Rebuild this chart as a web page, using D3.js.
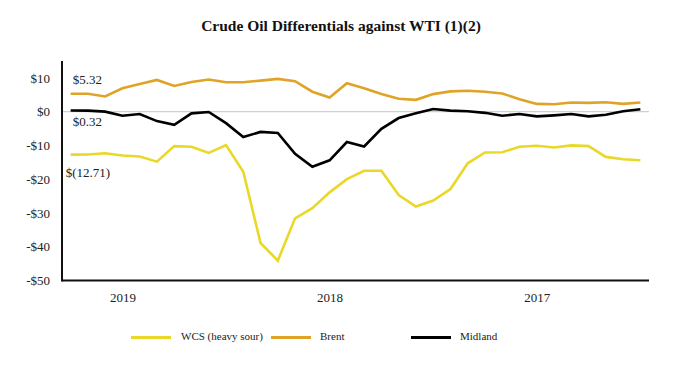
<!DOCTYPE html>
<html>
<head>
<meta charset="utf-8">
<script src="https://cdn.jsdelivr.net/npm/d3@7"></script>
<style>
  html, body { margin: 0; padding: 0; background: #fff; }
  svg { display: block; }
  text { font-family: "Liberation Serif", "DejaVu Serif", serif; fill: #222; }
</style>
</head>
<body>
<svg id="chart" width="682" height="374"></svg>
<script>
// Months, most recent first (chart reads right-to-left in time)
const categories = [
  "2019-10","2019-09","2019-08","2019-07","2019-06","2019-05","2019-04","2019-03","2019-02","2019-01",
  "2018-12","2018-11","2018-10","2018-09","2018-08","2018-07","2018-06","2018-05","2018-04","2018-03","2018-02","2018-01",
  "2017-12","2017-11","2017-10","2017-09","2017-08","2017-07","2017-06","2017-05","2017-04","2017-03","2017-02","2017-01"
];
const wcs = [-12.71,-12.7,-12.3,-13.0,-13.3,-14.8,-10.2,-10.4,-12.2,-9.9,-17.8,-38.9,-44.1,-31.6,-28.6,-23.9,-20.0,-17.5,-17.5,-24.7,-28.1,-26.3,-22.9,-15.3,-12.1,-12.0,-10.4,-10.1,-10.6,-10.0,-10.2,-13.4,-14.1,-14.4];
const brent = [5.32,5.3,4.5,6.9,8.2,9.4,7.6,8.8,9.5,8.7,8.7,9.2,9.7,9.0,5.9,4.2,8.4,6.9,5.2,3.8,3.5,5.2,6.0,6.2,5.9,5.4,3.7,2.3,2.2,2.7,2.6,2.8,2.3,2.7];
const midland = [0.32,0.3,0.0,-1.2,-0.7,-2.8,-3.9,-0.5,-0.1,-3.4,-7.5,-6.0,-6.3,-12.5,-16.3,-14.4,-9.0,-10.3,-5.1,-1.9,-0.5,0.8,0.3,0.1,-0.35,-1.2,-0.7,-1.4,-1.1,-0.7,-1.4,-0.9,0.1,0.7];
const yTicks = [10, 0, -10, -20, -30, -40, -50];
const yearTicks = [{cat: "2019-07", label: "2019"}, {cat: "2018-07", label: "2018"}, {cat: "2017-07", label: "2017"}];
const seriesList = [
  {name: "WCS (heavy sour)", values: wcs, color: "#EAD829"},
  {name: "Brent", values: brent, color: "#DFA427"},
  {name: "Midland", values: midland, color: "#000000"}
];
const annotations = [
  {text: "$5.32", idx: 0, value: 5.32, dx: 2, dy: -13},
  {text: "$0.32", idx: 0, value: 0.32, dx: 2, dy: 12},
  {text: "$(12.71)", idx: 0, value: -12.71, dx: -5, dy: 19}
];

const svg = d3.select("#chart");
const plotLeft = 62, plotRight = 649, plotTop = 61, plotBottom = 280.5;

const x = d3.scalePoint().domain(categories).range([plotLeft, plotRight]).padding(0.5);
const y = d3.scaleLinear().domain([-50, 15]).range([plotBottom, plotTop]);

// Title
svg.append("text")
  .attr("x", 341).attr("y", 31)
  .attr("text-anchor", "middle")
  .style("font-weight", "bold").style("font-size", "15.5px").style("fill", "#111")
  .text("Crude Oil Differentials against WTI (1)(2)");

// Zero gridline
svg.append("line")
  .attr("x1", plotLeft).attr("x2", plotRight)
  .attr("y1", y(0)).attr("y2", y(0))
  .attr("stroke", "#cfcfcf").attr("stroke-width", 1.2);

// Y axis
const yAxis = d3.axisLeft(y).tickValues(yTicks).tickSize(0).tickPadding(12)
  .tickFormat(d => d < 0 ? "-$" + Math.abs(d) : "$" + d);
const gy = svg.append("g").attr("transform", `translate(${plotLeft},0)`).call(yAxis)
  .attr("font-family", null).attr("font-size", null);
gy.select(".domain").remove();
gy.selectAll("text").style("font-size", "13px").style("font-family", '"Liberation Serif", serif').attr("fill", "#222");
svg.append("line").attr("x1", plotLeft).attr("x2", plotLeft).attr("y1", plotTop).attr("y2", plotBottom + 1)
  .attr("stroke", "#111").attr("stroke-width", 2);

// X axis
const xAxis = d3.axisBottom(x).tickValues(yearTicks.map(d => d.cat)).tickSize(0).tickPadding(12)
  .tickFormat(c => yearTicks.find(t => t.cat === c).label);
const gx = svg.append("g").attr("transform", `translate(0,${plotBottom})`).call(xAxis)
  .attr("font-family", null).attr("font-size", null);
gx.select(".domain").remove();
gx.selectAll("text").style("font-size", "13px").style("font-family", '"Liberation Serif", serif').attr("fill", "#222");
svg.append("line").attr("x1", plotLeft).attr("x2", plotRight).attr("y1", plotBottom).attr("y2", plotBottom)
  .attr("stroke", "#111").attr("stroke-width", 2);

// Lines
const line = d3.line().x((d, i) => x(categories[i])).y(d => y(d));
seriesList.forEach(s => {
  svg.append("path").datum(s.values)
    .attr("d", line).attr("fill", "none")
    .attr("stroke", s.color).attr("stroke-width", 2.6)
    .attr("stroke-linejoin", "miter");
});

// Annotations
annotations.forEach(a => {
  svg.append("text")
    .attr("x", x(categories[a.idx]) + a.dx)
    .attr("y", y(a.value) + a.dy)
    .attr("dominant-baseline", "middle")
    .style("font-size", "13px")
    .text(a.text);
});

// Legend
const legendPos = [{x: 131, tx: 181}, {x: 271, tx: 320}, {x: 411, tx: 460}];
seriesList.forEach((s, i) => {
  const ly = 337.5;
  svg.append("line").attr("x1", legendPos[i].x).attr("x2", legendPos[i].x + 40)
    .attr("y1", ly).attr("y2", ly).attr("stroke", s.color).attr("stroke-width", 3);
  svg.append("text").attr("x", legendPos[i].tx).attr("y", ly)
    .attr("dominant-baseline", "middle").style("font-size", "11px").text(s.name);
});
</script>
</body>
</html>
